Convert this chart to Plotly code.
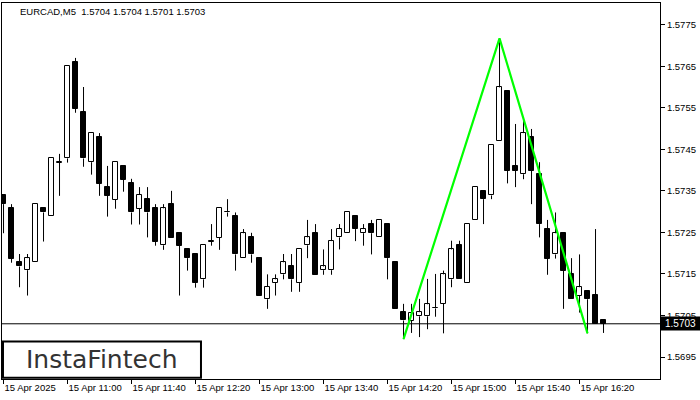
import plotly.graph_objects as go

# ---- data (EURCAD M5, 15 Apr 2025, from 10:20, one candle per 5 minutes) ----
opens = [1.57340, 1.57309, 1.57179, 1.57159, 1.57178, 1.57309, 1.57289, 1.57418, 1.57428, 1.57660,
         1.57540, 1.57419, 1.57480, 1.57359, 1.57329, 1.57410, 1.57369, 1.57307, 1.57330, 1.57309,
         1.57219, 1.57318, 1.57249, 1.57210, 1.57198, 1.57137, 1.57228, 1.57237, 1.57298, 1.57290,
         1.57188, 1.57238, 1.57188, 1.57089, 1.57128, 1.57149, 1.57168, 1.57128, 1.57219, 1.57249,
         1.57159, 1.57159, 1.57238, 1.57248, 1.57290, 1.57248, 1.57270, 1.57238, 1.57270, 1.57178,
         1.57058, 1.57037, 1.57048, 1.57048, 1.57067, 1.57078, 1.57137, 1.57219, 1.57128, 1.57279,
         1.57349, 1.57339, 1.57469, 1.57590, 1.57410, 1.57390, 1.57479, 1.57390, 1.57258, 1.57197,
         1.57248, 1.57149, 1.57098, 1.57108, 1.57099, 1.57039]
highs = [1.57340, 1.57318, 1.57198, 1.57198, 1.57318, 1.57309, 1.57428, 1.57439, 1.57651, 1.57670,
         1.57600, 1.57489, 1.57489, 1.57410, 1.57419, 1.57410, 1.57379, 1.57359, 1.57359, 1.57318,
         1.57318, 1.57350, 1.57249, 1.57210, 1.57198, 1.57219, 1.57270, 1.57308, 1.57330, 1.57298,
         1.57258, 1.57249, 1.57188, 1.57149, 1.57149, 1.57198, 1.57198, 1.57209, 1.57280, 1.57270,
         1.57209, 1.57258, 1.57270, 1.57298, 1.57290, 1.57270, 1.57280, 1.57280, 1.57270, 1.57178,
         1.57078, 1.57078, 1.57090, 1.57138, 1.57150, 1.57158, 1.57230, 1.57230, 1.57270, 1.57359,
         1.57349, 1.57460, 1.57717, 1.57590, 1.57511, 1.57521, 1.57499, 1.57419, 1.57280, 1.57298,
         1.57248, 1.57188, 1.57197, 1.57108, 1.57258, 1.57040]
lows = [1.57248, 1.57177, 1.57118, 1.57098, 1.57178, 1.57228, 1.57289, 1.57338, 1.57418, 1.57538,
        1.57408, 1.57389, 1.57338, 1.57288, 1.57307, 1.57348, 1.57269, 1.57269, 1.57238, 1.57218,
        1.57208, 1.57237, 1.57098, 1.57158, 1.57117, 1.57117, 1.57218, 1.57208, 1.57288, 1.57158,
        1.57188, 1.57177, 1.57098, 1.57066, 1.57098, 1.57137, 1.57107, 1.57107, 1.57188, 1.57148,
        1.57148, 1.57148, 1.57209, 1.57248, 1.57229, 1.57218, 1.57197, 1.57238, 1.57137, 1.57066,
        1.56993, 1.57008, 1.56998, 1.57017, 1.57047, 1.57007, 1.57118, 1.57137, 1.57128, 1.57279,
        1.57270, 1.57330, 1.57469, 1.57368, 1.57359, 1.57378, 1.57318, 1.57238, 1.57148, 1.57187,
        1.57066, 1.57089, 1.57057, 1.57007, 1.57029, 1.57008]
closes = [1.57318, 1.57187, 1.57168, 1.57188, 1.57318, 1.57298, 1.57428, 1.57419, 1.57651, 1.57548,
          1.57428, 1.57489, 1.57367, 1.57338, 1.57419, 1.57377, 1.57298, 1.57340, 1.57298, 1.57228,
          1.57308, 1.57237, 1.57218, 1.57188, 1.57128, 1.57219, 1.57229, 1.57308, 1.57299, 1.57197,
          1.57248, 1.57197, 1.57098, 1.57119, 1.57137, 1.57178, 1.57137, 1.57209, 1.57238, 1.57148,
          1.57168, 1.57229, 1.57258, 1.57298, 1.57258, 1.57258, 1.57248, 1.57280, 1.57188, 1.57066,
          1.57038, 1.57056, 1.57058, 1.57077, 1.57068, 1.57149, 1.57209, 1.57137, 1.57270, 1.57359,
          1.57330, 1.57460, 1.57599, 1.57399, 1.57399, 1.57489, 1.57399, 1.57270, 1.57187, 1.57248,
          1.57158, 1.57089, 1.57118, 1.57089, 1.57029, 1.57030]

tick_idx = [0, 8, 16, 24, 32, 40, 48, 56, 64, 72]
tick_labels = ["15 Apr 2025", "15 Apr 11:00", "15 Apr 11:40", "15 Apr 12:20", "15 Apr 13:00",
               "15 Apr 13:40", "15 Apr 14:20", "15 Apr 15:00", "15 Apr 15:40", "15 Apr 16:20"]
price_ticks = [1.5695, 1.5705, 1.5715, 1.5725, 1.5735, 1.5745, 1.5755, 1.5765, 1.5775]

# double top pattern (green)
pattern_idx = [50, 62, 73]
pattern_price = [1.56993, 1.57717, 1.57007]

title_text = "EURCAD,M5  1.5704 1.5704 1.5701 1.5703"
last_price = closes[-1]

FONT = "Liberation Sans"
n = len(opens)
xs = list(range(n))

# wicks (upper and lower, so hollow bodies stay clean)
wx, wy = [], []
for i in xs:
    top = max(opens[i], closes[i])
    bot = min(opens[i], closes[i])
    if highs[i] > top:
        wx += [i, i, None]
        wy += [top, highs[i], None]
    if lows[i] < bot:
        wx += [i, i, None]
        wy += [bot, lows[i], None]

base = [min(o, c) for o, c in zip(opens, closes)]
height = [max(abs(c - o), 0.000004) for o, c in zip(opens, closes)]
fill = ["white" if c >= o else "black" for o, c in zip(opens, closes)]

fig = go.Figure()
fig.add_trace(go.Scatter(x=wx, y=wy, mode="lines", line=dict(color="black", width=1),
                         hoverinfo="skip", showlegend=False))
fig.add_trace(go.Bar(x=xs, y=height, base=base, width=0.55,
                     marker=dict(color=fill, line=dict(color="black", width=1)),
                     showlegend=False, hoverinfo="skip"))
fig.add_trace(go.Scatter(x=pattern_idx, y=pattern_price, mode="lines",
                         line=dict(color="#00ff00", width=2.2), showlegend=False, hoverinfo="skip"))

fig.add_shape(type="line", xref="paper", x0=0, x1=1, yref="y", y0=last_price, y1=last_price,
              line=dict(color="black", width=1), layer="below")

# price label on the right axis
fig.add_annotation(xref="paper", x=1.0, xanchor="left", yref="y", y=last_price, yanchor="middle",
                   text="%.4f" % last_price, showarrow=False, bgcolor="black",
                   font=dict(family=FONT, size=10, color="white"), width=37, height=11, borderpad=1)

# title
fig.add_annotation(xref="paper", x=0.0243, xanchor="left", yref="paper", y=0.9787, yanchor="middle",
                   text=title_text, showarrow=False, font=dict(family=FONT, size=9.5, color="black"))

# logo box
fig.add_shape(type="rect", xref="paper", yref="paper", x0=0.0015, x1=0.3024, y0=0.003, y1=0.0997,
              line=dict(color="black", width=2), fillcolor="white", layer="above")
fig.add_annotation(xref="paper", x=0.152, xanchor="center", yref="paper", y=0.053, yanchor="middle",
                   text="InstaFintech", showarrow=False,
                   font=dict(family="DejaVu Sans", size=25, color="#333333"))

fig.update_layout(
    width=700, height=400,
    margin=dict(l=2, r=40, t=3, b=21),
    paper_bgcolor="white", plot_bgcolor="white",
    bargap=0, showlegend=False,
    xaxis=dict(range=[-0.19, 82.06], tickmode="array", tickvals=tick_idx, ticktext=tick_labels,
               ticks="outside", ticklen=4, tickcolor="black", ticklabelposition="outside right",
               showgrid=False, zeroline=False, showline=True, mirror=True, linecolor="black",
               linewidth=1, tickfont=dict(family=FONT, size=9.5, color="black")),
    yaxis=dict(range=[1.568971, 1.578022], side="right", tickmode="array", tickvals=price_ticks,
               ticktext=["%.4f" % p for p in price_ticks], ticks="outside", ticklen=4,
               tickcolor="black", showgrid=False, zeroline=False, showline=True, mirror=True,
               linecolor="black", linewidth=1, tickfont=dict(family=FONT, size=9.5, color="black")),
)

fig.write_html("out.html", config={"displayModeBar": False},
               post_script="document.body.style.margin='0px';")
